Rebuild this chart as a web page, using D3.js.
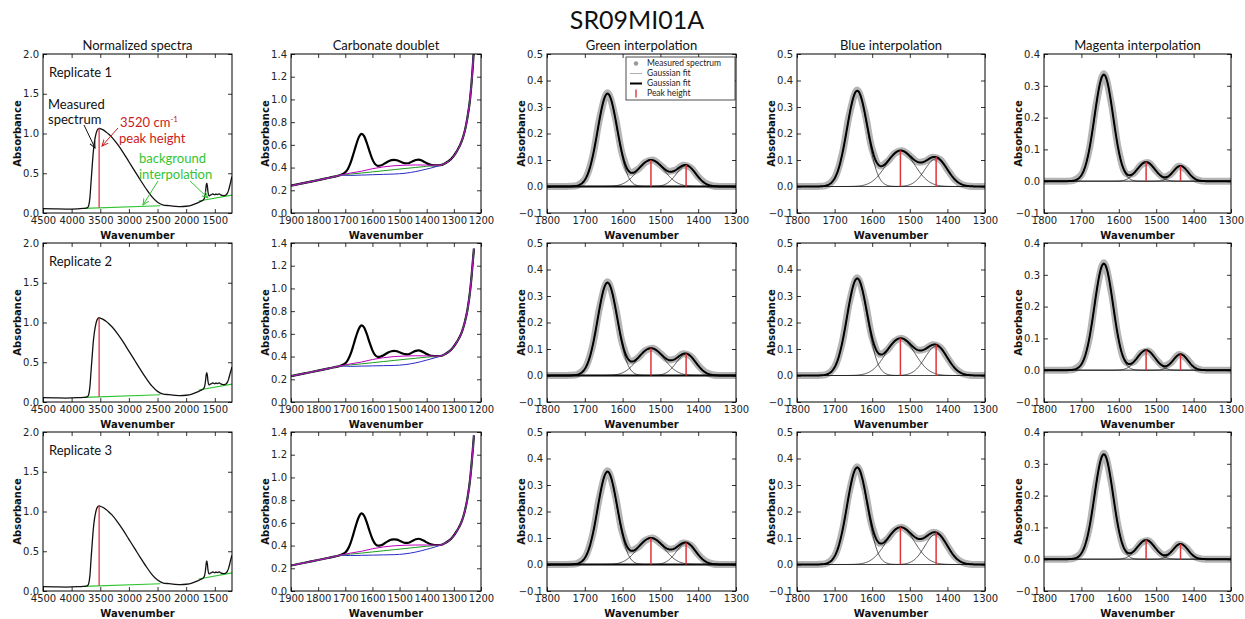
<!DOCTYPE html>
<html><head><meta charset="utf-8">
<script src="https://cdn.jsdelivr.net/npm/d3@7"></script>
<style>
html,body{margin:0;padding:0;background:#fff;}
svg{display:block;}
.tick text{font-family:"DejaVu Sans",sans-serif;font-size:10px;fill:#222;}
.tick line{stroke:#000;stroke-width:0.8;}
</style></head><body>
<svg id="chart" width="1245" height="619"></svg>
<script>
// ---------------- DATA ----------------
const chartTitle = "SR09MI01A";
const columnTitles = ["Normalized spectra","Carbonate doublet","Green interpolation","Blue interpolation","Magenta interpolation"];
const replicateLabels = ["Replicate 1","Replicate 2","Replicate 3"];
const axisLabelX = "Wavenumber";
const axisLabelY = "Absorbance";

// Column 1: normalized spectra
const normXTicks = [4500,4000,3500,3000,2500,2000,1500];
const normYTicks = [0,0.5,1.0,1.5,2.0];
const normWave = [4500,4300,4100,3900,3800,3750,3720,3700,3680,3660, 3640,3620,3600,3580,3560,3540,3520,3500,3450,3400, 3350,3300,3200,3100,3000,2900,2800,2700,2600,2500, 2400,2300,2200,2100,2000,1900,1800,1750,1700,1680, 1660,1650,1640,1630,1620,1600,1580,1560,1540,1520, 1500,1480,1460,1440,1420,1400,1380,1360,1340,1320, 1300,1280,1260,1240,1220,1200];
const normRep1 = [0.055,0.052,0.05,0.053,0.058,0.062,0.07,0.1,0.2,0.4, 0.6,0.78,0.9,0.98,1.03,1.055,1.065,1.06,1.045,1.02, 0.99,0.955,0.865,0.76,0.645,0.53,0.415,0.305,0.205,0.135, 0.1,0.092,0.084,0.079,0.085,0.1,0.128,0.145,0.165,0.19, 0.28,0.35,0.375,0.34,0.27,0.215,0.225,0.23,0.24,0.235, 0.228,0.24,0.232,0.236,0.24,0.23,0.222,0.22,0.218,0.222, 0.23,0.25,0.285,0.34,0.4,0.46];
const normRep2 = [0.056,0.053,0.05,0.054,0.058,0.062,0.07,0.1,0.2,0.4, 0.59,0.77,0.89,0.97,1.025,1.05,1.06,1.055,1.04,1.015, 0.985,0.95,0.86,0.755,0.64,0.525,0.41,0.3,0.203,0.134, 0.1,0.092,0.084,0.079,0.085,0.1,0.128,0.145,0.165,0.19, 0.28,0.345,0.37,0.335,0.265,0.215,0.225,0.23,0.24,0.235, 0.228,0.24,0.232,0.236,0.24,0.23,0.222,0.22,0.218,0.222, 0.23,0.25,0.285,0.34,0.39,0.44];
const normRep3 = [0.056,0.053,0.05,0.054,0.058,0.062,0.07,0.1,0.2,0.41, 0.61,0.79,0.91,0.99,1.04,1.062,1.07,1.065,1.05,1.025, 0.995,0.96,0.87,0.765,0.65,0.535,0.42,0.31,0.21,0.137, 0.1,0.092,0.084,0.079,0.085,0.1,0.128,0.145,0.165,0.19, 0.28,0.35,0.378,0.34,0.27,0.215,0.225,0.23,0.24,0.235, 0.228,0.24,0.232,0.236,0.24,0.23,0.222,0.22,0.218,0.222, 0.23,0.25,0.285,0.34,0.4,0.45];
const normBgWave = [3780,2450,1780,1200];
const normBgRep1 = [0.058,0.092,0.15,0.225];
const normBgRep2 = [0.058,0.092,0.15,0.225];
const normBgRep3 = [0.058,0.092,0.15,0.228];
const peak3520 = 3520;

// Column 2: carbonate doublet
const carbXTicks = [1900,1800,1700,1600,1500,1400,1300,1200];
const carbYTicks = [0,0.2,0.4,0.6,0.8,1.0,1.2,1.4];
const carbWave = [1900,1850,1800,1760,1740,1720,1700,1690,1680,1670, 1660,1650,1640,1630,1620,1610,1600,1590,1580,1570, 1560,1550,1540,1530,1520,1510,1500,1490,1480,1470, 1460,1450,1440,1430,1420,1410,1400,1390,1380,1370, 1360,1350,1330,1310,1290,1270,1260,1250,1240,1235, 1230,1226];
const carbRep1 = [0.24,0.265,0.29,0.31,0.32,0.333,0.358,0.39,0.445,0.52, 0.6,0.668,0.697,0.675,0.612,0.538,0.472,0.43,0.415,0.418, 0.428,0.443,0.456,0.465,0.468,0.464,0.455,0.445,0.438,0.438, 0.446,0.457,0.467,0.47,0.464,0.452,0.438,0.428,0.422,0.42, 0.42,0.421,0.44,0.475,0.54,0.64,0.72,0.84,1.01,1.14, 1.3,1.45];
const carbRep2 = [0.228,0.252,0.276,0.296,0.306,0.317,0.34,0.372,0.425,0.5, 0.58,0.646,0.675,0.654,0.593,0.52,0.455,0.413,0.398,0.4, 0.41,0.425,0.438,0.447,0.45,0.447,0.438,0.428,0.421,0.42, 0.428,0.44,0.45,0.454,0.448,0.436,0.422,0.412,0.406,0.404, 0.404,0.405,0.425,0.46,0.525,0.62,0.7,0.81,0.98,1.1, 1.24,1.35];
const carbRep3 = [0.224,0.249,0.273,0.293,0.303,0.315,0.339,0.371,0.426,0.503, 0.585,0.652,0.683,0.66,0.598,0.524,0.458,0.415,0.399,0.401, 0.412,0.428,0.442,0.452,0.455,0.452,0.443,0.432,0.424,0.424, 0.432,0.445,0.456,0.46,0.454,0.442,0.428,0.416,0.408,0.405, 0.404,0.405,0.425,0.46,0.525,0.62,0.7,0.815,0.985,1.11, 1.25,1.37];
const baseWave = [1720,1680,1640,1600,1560,1520,1480,1440,1400,1370,1350];
const magentaBase1 = [0.333,0.352,0.368,0.39,0.406,0.416,0.421,0.423,0.422,0.421,0.421];
const greenBase1   = [0.333,0.343,0.352,0.362,0.372,0.382,0.392,0.401,0.411,0.417,0.421];
const blueBase1    = [0.333,0.331,0.334,0.337,0.34,0.343,0.35,0.365,0.387,0.405,0.421];
const magentaBase2 = [0.317,0.336,0.352,0.374,0.39,0.4,0.405,0.407,0.406,0.405,0.405];
const greenBase2   = [0.317,0.327,0.336,0.346,0.356,0.366,0.376,0.385,0.395,0.401,0.405];
const blueBase2    = [0.317,0.314,0.316,0.318,0.32,0.322,0.329,0.345,0.369,0.389,0.405];
const magentaBase3 = [0.315,0.334,0.35,0.372,0.388,0.398,0.403,0.405,0.405,0.405,0.404];
const greenBase3   = [0.315,0.325,0.334,0.344,0.354,0.364,0.374,0.384,0.394,0.4,0.404];
const blueBase3    = [0.315,0.312,0.314,0.316,0.318,0.32,0.327,0.343,0.367,0.387,0.404];

// Columns 3-5: baseline-corrected spectra and Gaussian fit parameters
const fitXTicks = [1800,1700,1600,1500,1400,1300];
const fitYTicks = [-0.1,0,0.1,0.2,0.3,0.4,0.5];
const magentaYTicks = [-0.1,0,0.1,0.2,0.3,0.4];
const fitWave = [1800,1780,1760,1740,1720,1700,1680,1660,1640,1620,1600,1580,1560,1540,1520,1500,1480,1460,1440,1420,1400,1380,1360,1340,1320,1300];
const greenMeasured1 = [0,0,0,0.001,0.004,0.026,0.108,0.262,0.354,0.265,0.118,0.054,0.064,0.091,0.1,0.081,0.058,0.062,0.08,0.071,0.037,0.012,0.002,0,0,0];
const greenMeasured2 = [0,0,0,0.001,0.004,0.026,0.108,0.262,0.354,0.265,0.118,0.055,0.066,0.094,0.103,0.083,0.06,0.063,0.082,0.073,0.038,0.012,0.002,0,0,0];
const greenMeasured3 = [0,0,0,0.001,0.004,0.026,0.108,0.262,0.354,0.265,0.118,0.054,0.064,0.091,0.1,0.08,0.059,0.062,0.081,0.073,0.038,0.012,0.002,0,0,0];
const blueMeasured1 = [0,0,0,0.001,0.005,0.032,0.121,0.276,0.364,0.282,0.14,0.078,0.093,0.125,0.135,0.116,0.093,0.095,0.11,0.102,0.064,0.026,0.007,0.001,0,0];
const blueMeasured2 = [0,0,0,0.001,0.005,0.032,0.123,0.28,0.369,0.286,0.143,0.08,0.096,0.13,0.14,0.12,0.097,0.099,0.116,0.107,0.067,0.027,0.007,0.001,0,0];
const blueMeasured3 = [0,0,0,0.001,0.005,0.032,0.123,0.28,0.369,0.286,0.143,0.08,0.096,0.13,0.14,0.12,0.098,0.102,0.121,0.112,0.07,0.029,0.008,0.001,0,0];
const magentaMeasured1 = [0,0,0,0,0.003,0.02,0.094,0.245,0.338,0.245,0.095,0.024,0.025,0.052,0.058,0.032,0.013,0.023,0.047,0.036,0.01,0.001,0,0,0,0];
const magentaMeasured2 = [0,0,0,0,0.003,0.02,0.094,0.245,0.338,0.245,0.095,0.024,0.026,0.054,0.06,0.034,0.013,0.024,0.049,0.038,0.011,0.001,0,0,0,0];
const magentaMeasured3 = [0,0,0,0,0.003,0.02,0.093,0.241,0.333,0.241,0.093,0.024,0.025,0.052,0.058,0.032,0.013,0.023,0.047,0.036,0.01,0.001,0,0,0,0];
// Gaussian fit parameters: centre (cm-1), width sigma (cm-1), heights per replicate
const greenCenters = [1640,1525,1432];
const greenWidths = [26,35,26];
const greenHeights = [[0.35,0.10,0.078],[0.35,0.103,0.08],[0.35,0.10,0.08]];
const blueCenters = [1640,1525,1430];
const blueWidths = [27,38,30];
const blueHeights = [[0.36,0.135,0.105],[0.365,0.14,0.11],[0.365,0.14,0.115]];
const magentaCenters = [1640,1527,1435];
const magentaWidths = [25,24,20];
const magentaHeights = [[0.335,0.06,0.048],[0.335,0.063,0.05],[0.33,0.06,0.048]];
const legendLabels = ["Measured spectrum","Gaussian fit","Gaussian fit","Peak height"];

// ---------------- LAYOUT ----------------
const colX = [[43,232],[291,481],[547,736],[797,985],[1044,1231]];
const rowY = [[54,213],[243,402],[432,591]];
const uiFont = "Lato, 'Open Sans', sans-serif";
const axFont = "'DejaVu Sans', sans-serif";
const RED = "#e0343a";

const svg = d3.select("#chart");
const defs = svg.append("defs");
function marker(id, color) {
  defs.append("marker").attr("id", id).attr("viewBox", "0 0 10 10")
    .attr("refX", 9).attr("refY", 5).attr("markerWidth", 7).attr("markerHeight", 7)
    .attr("orient", "auto").append("path").attr("d", "M0,1 L9,5 L0,9")
    .attr("fill", "none").attr("stroke", color).attr("stroke-width", 1.4);
}
marker("arrK", "#111"); marker("arrR", "#cc1a1a"); marker("arrG", "#33c433");

svg.append("text").attr("x", 637).attr("y", 20).attr("dy", "0.35em")
  .attr("text-anchor", "middle").attr("font-family", uiFont).attr("font-size", 25)
  .attr("fill", "#111").text(chartTitle);

const fmt1 = d3.format(".1f");

function makePanel(r, c, xDom, yDom, xTicks, yTicks) {
  const [x0, x1] = colX[c], [y0, y1] = rowY[r];
  const x = d3.scaleLinear().domain(xDom).range([x0, x1]);
  const y = d3.scaleLinear().domain(yDom).range([y1, y0]);
  const g = svg.append("g");
  const cid = `clip-${r}-${c}`;
  defs.append("clipPath").attr("id", cid).append("rect")
    .attr("x", x0).attr("y", y0).attr("width", x1 - x0).attr("height", y1 - y0);
  const plot = g.append("g").attr("clip-path", `url(#${cid})`);
  const ax = g.append("g");
  const b = ax.append("g").attr("transform", `translate(0,${y1})`)
    .call(d3.axisBottom(x).tickValues(xTicks).tickSizeInner(-4).tickSizeOuter(0).tickPadding(4).tickFormat(d3.format("d")));
  b.select(".domain").remove();
  const t = ax.append("g").attr("transform", `translate(0,${y0})`)
    .call(d3.axisTop(x).tickValues(xTicks).tickSizeInner(-4).tickSizeOuter(0).tickFormat(""));
  t.select(".domain").remove();
  const l = ax.append("g").attr("transform", `translate(${x0},0)`)
    .call(d3.axisLeft(y).tickValues(yTicks).tickSizeInner(-4).tickSizeOuter(0).tickPadding(4).tickFormat(fmt1));
  l.select(".domain").remove();
  const rr = ax.append("g").attr("transform", `translate(${x1},0)`)
    .call(d3.axisRight(y).tickValues(yTicks).tickSizeInner(-4).tickSizeOuter(0).tickFormat(""));
  rr.select(".domain").remove();
  ax.append("rect").attr("x", x0).attr("y", y0).attr("width", x1 - x0).attr("height", y1 - y0)
    .attr("fill", "none").attr("stroke", "#000").attr("stroke-width", 1);
  ax.append("text").attr("x", (x0 + x1) / 2).attr("y", y1 + 22).attr("dy", "0.35em")
    .attr("text-anchor", "middle").attr("font-family", axFont).attr("font-weight", "bold")
    .attr("font-size", 10).attr("fill", "#111").text(axisLabelX);
  ax.append("text").attr("transform", `translate(${x0 - 26},${(y0 + y1) / 2}) rotate(-90)`)
    .attr("dy", "0.35em").attr("text-anchor", "middle").attr("font-family", axFont)
    .attr("font-weight", "bold").attr("font-size", 10).attr("fill", "#111").text(axisLabelY);
  if (r === 0) {
    ax.append("text").attr("x", (x0 + x1) / 2).attr("y", y0 - 9).attr("dy", "0.35em")
      .attr("text-anchor", "middle").attr("font-family", uiFont).attr("font-size", 13)
      .attr("fill", "#111").text(columnTitles[c]);
  }
  return { g, plot, x, y, x0, x1, y0, y1 };
}

const line = (x, y, curve) => d3.line().x(d => x(d[0])).y(d => y(d[1])).curve(curve || d3.curveLinear);
const zip = (a, b) => a.map((v, i) => [v, b[i]]);

// ----- Column 1 -----
const normSets = [normRep1, normRep2, normRep3];
const normBgSets = [normBgRep1, normBgRep2, normBgRep3];
normSets.forEach((vals, r) => {
  const p = makePanel(r, 0, [4500, 1200], [0, 2], normXTicks, normYTicks);
  const bg = zip(normBgWave, normBgSets[r]);
  const lg = line(p.x, p.y);
  p.plot.append("path").attr("d", lg(bg.slice(0, 2))).attr("fill", "none").attr("stroke", "#2fc42f").attr("stroke-width", 1.1);
  p.plot.append("path").attr("d", lg(bg.slice(2))).attr("fill", "none").attr("stroke", "#2fc42f").attr("stroke-width", 1.1);
  p.plot.append("path").attr("d", line(p.x, p.y, d3.curveMonotoneX)(zip(normWave, vals)))
    .attr("fill", "none").attr("stroke", "#111").attr("stroke-width", 1.3);
  const pk = vals[normWave.indexOf(peak3520)];
  const bgAt = d3.scaleLinear().domain([normBgWave[0], normBgWave[1]]).range([normBgSets[r][0], normBgSets[r][1]]);
  p.plot.append("line").attr("x1", p.x(peak3520)).attr("x2", p.x(peak3520))
    .attr("y1", p.y(bgAt(peak3520))).attr("y2", p.y(pk)).attr("stroke", RED).attr("stroke-width", 1.3);
  p.g.append("text").attr("x", p.x0 + 6).attr("y", p.y0 + 18).attr("dy", "0.35em")
    .attr("font-family", uiFont).attr("font-size", 13).attr("fill", "#111").text(replicateLabels[r]);
  if (r === 0) {
    const a = p.g.append("g").attr("font-family", uiFont).attr("font-size", 13);
    a.append("text").attr("x", 48).attr("y", 104).attr("dy", "0.35em").attr("fill", "#111").text("Measured");
    a.append("text").attr("x", 48).attr("y", 119).attr("dy", "0.35em").attr("fill", "#111").text("spectrum");
    const t1 = a.append("text").attr("x", 120).attr("y", 122).attr("dy", "0.35em").attr("fill", "#cc1a1a");
    t1.append("tspan").text("3520 cm");
    t1.append("tspan").attr("font-size", 8).attr("dy", "-0.6em").text("-1");
    a.append("text").attr("x", 119).attr("y", 138).attr("dy", "0.35em").attr("fill", "#cc1a1a").text("peak height");
    a.append("text").attr("x", 139).attr("y", 158).attr("dy", "0.35em").attr("fill", "#33c433").text("background");
    a.append("text").attr("x", 139).attr("y", 174).attr("dy", "0.35em").attr("fill", "#33c433").text("interpolation");
    a.append("line").attr("x1", 84).attr("y1", 125).attr("x2", 95).attr("y2", 148).attr("stroke", "#111").attr("stroke-width", 1).attr("marker-end", "url(#arrK)");
    a.append("line").attr("x1", 118).attr("y1", 128).attr("x2", 102).attr("y2", 146).attr("stroke", "#cc1a1a").attr("stroke-width", 1).attr("marker-end", "url(#arrR)");
    a.append("line").attr("x1", 158).attr("y1", 181).attr("x2", 143).attr("y2", 205).attr("stroke", "#33c433").attr("stroke-width", 1).attr("marker-end", "url(#arrG)");
    a.append("line").attr("x1", 190).attr("y1", 181).attr("x2", 208).attr("y2", 198).attr("stroke", "#33c433").attr("stroke-width", 1).attr("marker-end", "url(#arrG)");
  }
});

// ----- Column 2 -----
const carbSets = [carbRep1, carbRep2, carbRep3];
const baseSets = [
  [blueBase1, greenBase1, magentaBase1],
  [blueBase2, greenBase2, magentaBase2],
  [blueBase3, greenBase3, magentaBase3]];
const baseColors = ["#2a2ac8", "#1d9e1d", "#bf00bf"];
carbSets.forEach((vals, r) => {
  const p = makePanel(r, 1, [1900, 1200], [0, 1.4], carbXTicks, carbYTicks);
  const spec = zip(carbWave, vals);
  const lc = line(p.x, p.y, d3.curveMonotoneX);
  p.plot.append("path").attr("d", lc(spec)).attr("fill", "none").attr("stroke", "#000").attr("stroke-width", 2.2);
  const left = spec.filter(d => d[0] > baseWave[0]);
  const right = spec.filter(d => d[0] < baseWave[baseWave.length - 1]);
  baseSets[r].forEach((bv, k) => {
    const pts = left.concat(zip(baseWave, bv), right);
    p.plot.append("path").attr("d", lc(pts)).attr("fill", "none").attr("stroke", baseColors[k]).attr("stroke-width", 1);
  });
});

// ----- Columns 3-5 -----
const fitGrid = d3.range(1800, 1299, -2);
const fitCols = [
  { c: 2, centers: greenCenters, widths: greenWidths, heights: greenHeights, meas: [greenMeasured1, greenMeasured2, greenMeasured3], yDom: [-0.1, 0.5], ticks: fitYTicks, thickZero: true },
  { c: 3, centers: blueCenters, widths: blueWidths, heights: blueHeights, meas: [blueMeasured1, blueMeasured2, blueMeasured3], yDom: [-0.1, 0.5], ticks: fitYTicks, thickZero: false },
  { c: 4, centers: magentaCenters, widths: magentaWidths, heights: magentaHeights, meas: [magentaMeasured1, magentaMeasured2, magentaMeasured3], yDom: [-0.1, 0.4], ticks: magentaYTicks, thickZero: false }];
fitCols.forEach(fc => {
  for (let r = 0; r < 3; r++) {
    const p = makePanel(r, fc.c, [1800, 1300], fc.yDom, fitXTicks, fc.ticks);
    const hs = fc.heights[r];
    const comp = (i, w) => hs[i] * Math.exp(-((w - fc.centers[i]) ** 2) / (2 * fc.widths[i] ** 2));
    const total = w => d3.sum(hs, (h, i) => comp(i, w));
    p.plot.append("path").attr("d", line(p.x, p.y, d3.curveCatmullRom)(zip(fitWave, fc.meas[r])))
      .attr("fill", "none").attr("stroke", "#b4b4b4").attr("stroke-width", 7)
      .attr("stroke-linejoin", "round").attr("stroke-linecap", "round");
    p.plot.append("line").attr("x1", p.x0).attr("x2", p.x1).attr("y1", p.y(0)).attr("y2", p.y(0))
      .attr("stroke", fc.thickZero ? "#000" : "#888").attr("stroke-width", fc.thickZero ? 2 : 0.9);
    hs.forEach((h, i) => {
      p.plot.append("path").attr("d", line(p.x, p.y)(fitGrid.map(w => [w, comp(i, w)])))
        .attr("fill", "none").attr("stroke", "#111").attr("stroke-width", 0.7);
    });
    p.plot.append("path").attr("d", line(p.x, p.y)(fitGrid.map(w => [w, total(w)])))
      .attr("fill", "none").attr("stroke", "#000").attr("stroke-width", 2);
    [1, 2].forEach(i => {
      const cx = fc.centers[i];
      p.plot.append("line").attr("x1", p.x(cx)).attr("x2", p.x(cx)).attr("y1", p.y(0)).attr("y2", p.y(total(cx)))
        .attr("stroke", RED).attr("stroke-width", 1.5);
    });
    if (fc.c === 2 && r === 0) {
      const lg = p.g.append("g");
      lg.append("rect").attr("x", 626).attr("y", 57).attr("width", 109).attr("height", 43)
        .attr("fill", "#fff").attr("stroke", "#222").attr("stroke-width", 0.8);
      const ys = [63.5, 73.5, 83.5, 93.5];
      lg.append("circle").attr("cx", 636).attr("cy", ys[0]).attr("r", 2.2).attr("fill", "#999");
      lg.append("line").attr("x1", 630).attr("x2", 642).attr("y1", ys[1]).attr("y2", ys[1]).attr("stroke", "#999").attr("stroke-width", 0.8);
      lg.append("line").attr("x1", 630).attr("x2", 642).attr("y1", ys[2]).attr("y2", ys[2]).attr("stroke", "#000").attr("stroke-width", 2);
      lg.append("line").attr("x1", 636).attr("x2", 636).attr("y1", ys[3] - 4).attr("y2", ys[3] + 4).attr("stroke", RED).attr("stroke-width", 1.4);
      legendLabels.forEach((t, i) => {
        lg.append("text").attr("x", 647).attr("y", ys[i]).attr("dy", "0.35em")
          .attr("font-family", uiFont).attr("font-size", 8.5).attr("fill", "#222").text(t);
      });
    }
  }
});
</script>
</body></html>
